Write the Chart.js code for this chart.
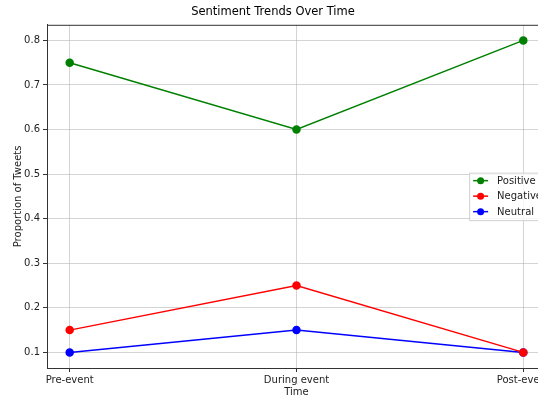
<!DOCTYPE html>
<html>
<head>
<meta charset="utf-8">
<script src="https://cdn.jsdelivr.net/npm/chart.js@4.4.1/dist/chart.umd.min.js"></script>
<style>
  html, body { margin: 0; padding: 0; background: #fff; overflow: hidden; }
  #wrap { width: 560px; height: 396px; }
</style>
</head>
<body>
<div id="wrap"><canvas id="chart"></canvas></div>
<script>
// sentiment proportions per period
var periods = ['Pre-event', 'During event', 'Post-event'];
var positive = [0.75, 0.60, 0.80];
var negative = [0.15, 0.25, 0.10];
var neutral = [0.10, 0.15, 0.10];
var yTicks = [0.1, 0.2, 0.3, 0.4, 0.5, 0.6, 0.7, 0.8];

var FONT = 'DejaVu Sans';

function toPoints(values) {
    return values.map(function(v, i) { return { x: i, y: v }; });
}

function series(label, values, color) {
    return {
        label: label,
        data: toPoints(values),
        borderColor: color,
        backgroundColor: color,
        borderWidth: 1.5,
        pointRadius: 3.5,
        pointHoverRadius: 3.5,
        tension: 0
    };
}

// full frame round the plot area
var framePlugin = {
    id: 'frame',
    afterDraw: function(chart) {
        var a = chart.chartArea, ctx = chart.ctx;
        ctx.save();
        ctx.strokeStyle = '#333';
        ctx.lineWidth = 1;
        ctx.strokeRect(a.left + 0.5, a.top + 0.5, a.right - a.left, a.bottom - a.top);
        ctx.restore();
    }
};

// matplotlib-like legend at center right inside the axes
var legendPlugin = {
    id: 'boxLegend',
    afterDraw: function(chart) {
        var a = chart.chartArea, ctx = chart.ctx;
        var sets = chart.data.datasets;
        ctx.save();
        ctx.font = '10px ' + FONT;
        var textW = 0;
        sets.forEach(function(ds) { textW = Math.max(textW, ctx.measureText(ds.label).width); });
        var rowH = 15.5, w = 28 + textW + 4, h = sets.length * rowH + 1;
        var x = a.right - w;
        var y = (a.top + a.bottom) / 2 - h / 2;
        ctx.fillStyle = 'rgba(255,255,255,0.8)';
        ctx.strokeStyle = '#d0d0d0';
        ctx.lineWidth = 1;
        ctx.beginPath();
        ctx.rect(x + 0.5, y + 0.5, w, h);
        ctx.fill();
        ctx.stroke();
        sets.forEach(function(ds, i) {
            var cy = y + 8 + i * rowH;
            ctx.strokeStyle = ds.borderColor;
            ctx.lineWidth = 1.5;
            ctx.beginPath();
            ctx.moveTo(x + 4, cy);
            ctx.lineTo(x + 19, cy);
            ctx.stroke();
            ctx.fillStyle = ds.borderColor;
            ctx.beginPath();
            ctx.arc(x + 11.5, cy, 3.5, 0, Math.PI * 2);
            ctx.fill();
            ctx.fillStyle = '#222';
            ctx.textBaseline = 'middle';
            ctx.fillText(ds.label, x + 28, cy + 0.5);
        });
        ctx.restore();
    }
};

new Chart(document.getElementById('chart'), {
    type: 'line',
    data: {
        datasets: [
            series('Positive', positive, '#008000'),
            series('Negative', negative, '#ff0000'),
            series('Neutral', neutral, '#0000ff')
        ]
    },
    options: {
        responsive: true,
        maintainAspectRatio: false,
        animation: false,
        layout: { padding: { left: 0, right: 14, top: 0, bottom: 0 } },
        plugins: {
            legend: { display: false },
            tooltip: { enabled: false },
            title: {
                display: true,
                text: 'Sentiment Trends Over Time',
                color: '#000',
                font: { family: FONT, size: 11.5, weight: 'normal' },
                padding: { top: 5, bottom: 6 }
            }
        },
        scales: {
            x: {
                type: 'linear',
                min: -0.1,
                max: 2.1,
                afterBuildTicks: function(scale) {
                    scale.ticks = periods.map(function(p, i) { return { value: i }; });
                },
                afterFit: function(scale) { scale.height = 28; },
                ticks: {
                    color: '#222',
                    font: { family: FONT, size: 10 },
                    padding: 2,
                    maxRotation: 0,
                    callback: function(v) { return periods[v]; }
                },
                grid: { color: 'rgba(176,176,176,0.55)', tickColor: '#333', tickLength: 4 },
                border: { color: '#333' },
                title: {
                    display: true,
                    text: 'Time',
                    color: '#222',
                    font: { family: FONT, size: 10 },
                    padding: { top: 4, bottom: -2 }
                }
            },
            y: {
                min: 0.065,
                max: 0.835,
                afterBuildTicks: function(scale) {
                    scale.ticks = yTicks.map(function(v) { return { value: v }; });
                },
                afterFit: function(scale) { scale.width = 47; },
                ticks: {
                    color: '#222',
                    font: { family: FONT, size: 10 },
                    padding: 3,
                    callback: function(v) { return v.toFixed(1); }
                },
                grid: { color: 'rgba(176,176,176,0.55)', tickColor: '#333', tickLength: 4 },
                border: { color: '#333' },
                title: {
                    display: true,
                    text: 'Proportion of Tweets',
                    color: '#222',
                    font: { family: FONT, size: 10 },
                    padding: { top: 12, bottom: 2 }
                }
            }
        }
    },
    plugins: [framePlugin, legendPlugin]
});
</script>
</body>
</html>
